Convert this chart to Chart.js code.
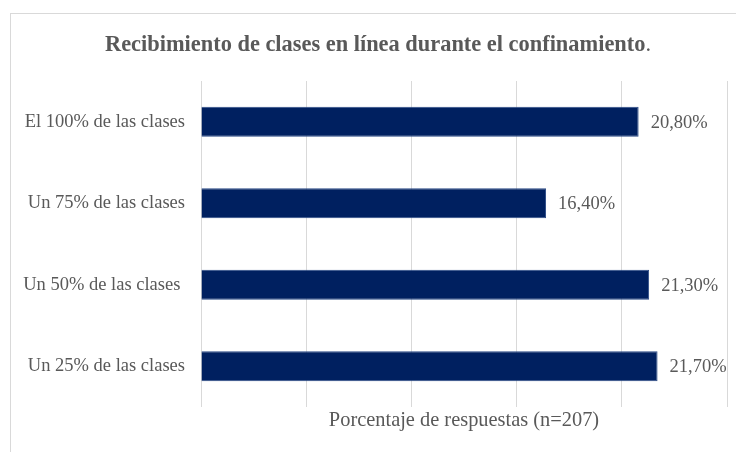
<!DOCTYPE html>
<html>
<head>
<meta charset="utf-8">
<script src="https://cdn.jsdelivr.net/npm/chart.js@4"></script>
<style>
  html, body { margin: 0; padding: 0; background: #fff; overflow: hidden; }
  #wrap { position: relative; width: 736px; height: 452px; }
  #frame { position: absolute; left: 10px; top: 13px; width: 800px; height: 500px;
           border: 1px solid #d9d9d9; box-sizing: border-box; pointer-events: none; }
  canvas { position: absolute; left: 0; top: 0; }
</style>
</head>
<body>
<div id="wrap">
  <div id="frame"></div>
  <canvas id="chart" width="736" height="452"></canvas>
</div>
<script>
// Chart data
var categories = ['El 100% de las clases', 'Un 75% de las clases', 'Un 50% de las clases ', 'Un 25% de las clases'];
var values = [20.8, 16.4, 21.3, 21.7];
var axisTicks = [0, 5, 10, 15, 20, 25];

var titleText = 'Recibimiento de clases en línea durante el confinamiento';
var axisTitle = 'Porcentaje de respuestas (n=207)';
var textColor = '#595959';
var serif = "'Liberation Serif', 'Times New Roman', serif";

/**
 * Draws the chart title (bold text followed by a regular period)
 */
var titlePlugin = {
  id: 'titleText',
  afterDraw: function (chart) {
    var ctx = chart.ctx;
    ctx.save();
    ctx.fillStyle = textColor;
    ctx.textBaseline = 'alphabetic';
    ctx.font = 'bold 22.4px ' + serif;
    var w1 = ctx.measureText(titleText).width;
    ctx.font = '22.4px ' + serif;
    var w2 = ctx.measureText('.').width;
    var x = 378 - (w1 + w2) / 2;
    ctx.font = 'bold 22.4px ' + serif;
    ctx.textAlign = 'left';
    ctx.fillText(titleText, x, 51);
    ctx.font = '22.4px ' + serif;
    ctx.fillText('.', x + w1, 51);
    ctx.restore();
  }
};

/**
 * Draws value labels at the end of each bar
 */
var valueLabels = {
  id: 'valueLabels',
  afterDatasetsDraw: function (chart) {
    var ctx = chart.ctx;
    var meta = chart.getDatasetMeta(0);
    ctx.save();
    ctx.fillStyle = textColor;
    ctx.font = '18.5px ' + serif;
    ctx.textAlign = 'left';
    ctx.textBaseline = 'middle';
    meta.data.forEach(function (bar, i) {
      var label = values[i].toFixed(2).replace('.', ',') + '%';
      ctx.fillText(label, bar.x + 12, bar.y + 1);
    });
    ctx.restore();
  }
};

var ctx = document.getElementById('chart').getContext('2d');
var chart = new Chart(ctx, {
  type: 'bar',
  data: {
    labels: categories,
    datasets: [
      {
        data: values,
        backgroundColor: '#002060',
        borderColor: '#2a4a85',
        borderWidth: 1,
        borderSkipped: 'start',
        barPercentage: 0.37,
        categoryPercentage: 1,
      },
    ],
  },
  options: {
    indexAxis: 'y',
    responsive: false,
    animation: false,
    devicePixelRatio: 1,
    layout: { padding: { left: 0, right: 9, top: 81, bottom: 0 } },
    plugins: {
      legend: { display: false },
      tooltip: { enabled: false },
      title: { display: false },
    },
    scales: {
      x: {
        min: axisTicks[0],
        max: axisTicks[axisTicks.length - 1],
        afterBuildTicks: function (scale) {
          scale.ticks = axisTicks.map(function (v) { return { value: v }; });
        },
        afterFit: function (scale) { scale.height = 45; },
        ticks: { display: false },
        grid: { color: '#d9d9d9', drawTicks: false },
        border: { display: false },
        title: {
          display: true,
          text: axisTitle,
          color: textColor,
          font: { family: serif, size: 20.4 },
          padding: { top: 0, bottom: 19 },
        },
      },
      y: {
        afterFit: function (scale) { scale.width = 201; },
        grid: { display: false, drawTicks: false },
        border: { display: false },
        ticks: {
          color: textColor,
          padding: 16,
          font: { family: serif, size: 18.5 },
        },
      },
    },
  },
  plugins: [titlePlugin, valueLabels],
});
</script>
</body>
</html>
